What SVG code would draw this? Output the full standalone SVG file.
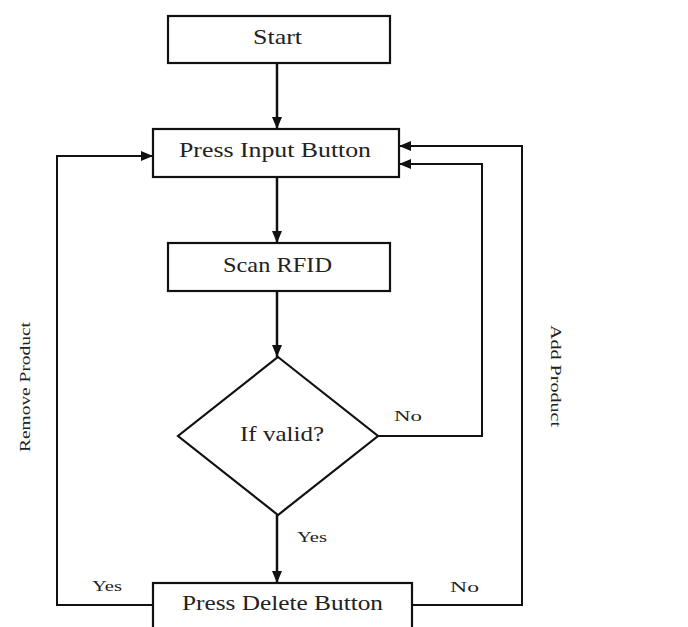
<svg xmlns="http://www.w3.org/2000/svg" width="688" height="627" viewBox="0 0 688 627">
<defs>
<style>
.box{fill:#fff;stroke:#111;stroke-width:2.2}
.t{font-family:"Liberation Serif","DejaVu Serif",serif;font-size:21px;fill:#222;text-anchor:middle}
.s{font-family:"Liberation Serif","DejaVu Serif",serif;font-size:15px;fill:#222;text-anchor:middle}
.c{fill:none;stroke:#111;stroke-width:2}
.m{fill:none;stroke:#111;stroke-width:2.5}
</style>
<marker id="ah" viewBox="0 0 12 10" refX="12" refY="5" markerWidth="12" markerHeight="10" markerUnits="userSpaceOnUse" orient="auto">
<path d="M0,0 L12,5 L0,10 Z" fill="#111"/>
</marker>
</defs>
<rect width="688" height="627" fill="#fff"/>
<g id="connectors">
<line class="m" x1="277" y1="63" x2="277" y2="129" marker-end="url(#ah)"/>
<line class="m" x1="277" y1="177" x2="277" y2="243" marker-end="url(#ah)"/>
<line class="m" x1="277" y1="291" x2="277" y2="357" marker-end="url(#ah)"/>
<line class="m" x1="277" y1="515" x2="277" y2="583" marker-end="url(#ah)"/>
<polyline class="c" points="378,436 482,436 482,164 399,164" marker-end="url(#ah)"/>
<polyline class="c" points="412,605 522,605 522,146 399,146" marker-end="url(#ah)"/>
<polyline class="c" points="153,605 57,605 57,156 153,156" marker-end="url(#ah)"/>
</g>
<g id="start"><rect class="box" x="168" y="16" width="222" height="47"/><text class="t" x="277.5" y="44" textLength="49" lengthAdjust="spacingAndGlyphs">Start</text></g>
<g id="press-input"><rect class="box" x="153" y="129" width="246" height="48"/><text class="t" x="275" y="157" textLength="192" lengthAdjust="spacingAndGlyphs">Press Input Button</text></g>
<g id="scan-rfid"><rect class="box" x="168" y="243" width="222" height="48"/><text class="t" x="277.5" y="272" textLength="109" lengthAdjust="spacingAndGlyphs">Scan RFID</text></g>
<g id="if-valid"><polygon class="box" points="278,357 378,436 278,515 178,436"/><text class="t" x="282" y="441" textLength="84" lengthAdjust="spacingAndGlyphs">If valid?</text></g>
<g id="press-delete"><rect class="box" x="153" y="583" width="259" height="50"/><text class="t" x="282.5" y="610" textLength="201" lengthAdjust="spacingAndGlyphs">Press Delete Button</text></g>
<g id="labels">
<text class="s" x="408" y="421" textLength="28" lengthAdjust="spacingAndGlyphs">No</text>
<text class="s" x="312" y="542" textLength="30" lengthAdjust="spacingAndGlyphs">Yes</text>
<text class="s" x="107" y="591" textLength="30" lengthAdjust="spacingAndGlyphs">Yes</text>
<text class="s" x="464.5" y="592" textLength="29" lengthAdjust="spacingAndGlyphs">No</text>
<text class="s" transform="translate(551,376) rotate(90)" x="0" y="0" textLength="102" lengthAdjust="spacingAndGlyphs">Add Product</text>
<text class="s" transform="translate(30,387) rotate(-90)" x="0" y="0" textLength="130" lengthAdjust="spacingAndGlyphs">Remove Product</text>
</g>
</svg>
